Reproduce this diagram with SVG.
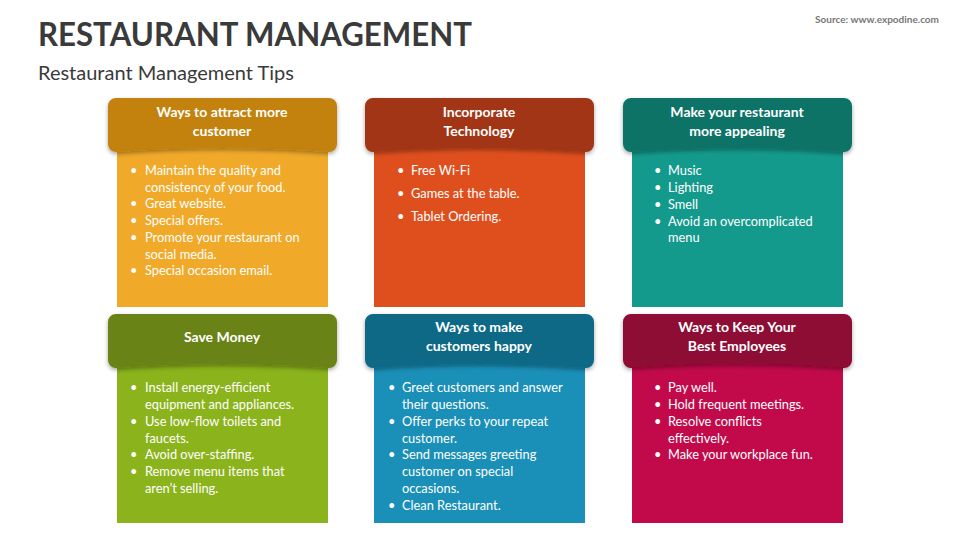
<svg xmlns="http://www.w3.org/2000/svg" width="960" height="540" viewBox="0 0 960 540">
<defs>
<style>
text{font-family:Lato,"Open Sans",sans-serif;}
.h{fill:#fff;font-weight:bold;font-size:14px;text-anchor:middle}
.b{fill:#fff;font-size:12.8px}
</style>
<filter id="sh" x="-10%" y="-10%" width="120%" height="130%"><feDropShadow dx="0" dy="2" stdDeviation="2" flood-opacity="0.35"/></filter>
</defs>
<rect width="960" height="540" fill="#fff"/>
<text x="38" y="46" font-size="32" font-weight="bold" fill="#3a3a3a" textLength="434" lengthAdjust="spacingAndGlyphs">RESTAURANT MANAGEMENT</text>
<text x="38" y="80" font-size="20" fill="#3a3a3a">Restaurant Management Tips</text>
<text x="939" y="23" font-size="10" font-weight="bold" fill="#777" text-anchor="end">Source: www.expodine.com</text>

<g id="card1">
<rect x="117" y="145" width="211" height="162" fill="#F0A929"/>
<path d="M116 98h213a8 8 0 0 1 8 8v38a8 8 0 0 1-8 8q-106-8-213 0a8 8 0 0 1-8-8v-38a8 8 0 0 1 8-8z" fill="#C38210" filter="url(#sh)"/>
<text class="h"><tspan x="222" y="117">Ways to attract more</tspan><tspan x="222" y="136">customer</tspan></text>
<text class="b"><tspan x="130" y="175">•</tspan><tspan x="145" y="175">Maintain the quality and</tspan><tspan x="145" y="192">consistency of your food.</tspan><tspan x="130" y="208">•</tspan><tspan x="145" y="208">Great website.</tspan><tspan x="130" y="225">•</tspan><tspan x="145" y="225">Special offers.</tspan><tspan x="130" y="242">•</tspan><tspan x="145" y="242">Promote your restaurant on</tspan><tspan x="145" y="259">social media.</tspan><tspan x="130" y="275">•</tspan><tspan x="145" y="275">Special occasion email.</tspan></text>
</g>

<g id="card2">
<rect x="374" y="145" width="211" height="162" fill="#DF4F1E"/>
<path d="M373 98h213a8 8 0 0 1 8 8v38a8 8 0 0 1-8 8q-106-8-213 0a8 8 0 0 1-8-8v-38a8 8 0 0 1 8-8z" fill="#A23614" filter="url(#sh)"/>
<text class="h"><tspan x="479" y="117">Incorporate</tspan><tspan x="479" y="136">Technology</tspan></text>
<text class="b"><tspan x="397" y="175">•</tspan><tspan x="411" y="175">Free Wi-Fi</tspan><tspan x="397" y="198">•</tspan><tspan x="411" y="198">Games at the table.</tspan><tspan x="397" y="221">•</tspan><tspan x="411" y="221">Tablet Ordering.</tspan></text>
</g>

<g id="card3">
<rect x="632" y="145" width="211" height="162" fill="#149A8C"/>
<path d="M631 98h213a8 8 0 0 1 8 8v38a8 8 0 0 1-8 8q-106-8-213 0a8 8 0 0 1-8-8v-38a8 8 0 0 1 8-8z" fill="#0F7366" filter="url(#sh)"/>
<text class="h"><tspan x="737" y="117">Make your restaurant</tspan><tspan x="737" y="136">more appealing</tspan></text>
<text class="b"><tspan x="654" y="175">•</tspan><tspan x="668" y="175">Music</tspan><tspan x="654" y="192">•</tspan><tspan x="668" y="192">Lighting</tspan><tspan x="654" y="209">•</tspan><tspan x="668" y="209">Smell</tspan><tspan x="654" y="226">•</tspan><tspan x="668" y="226">Avoid an overcomplicated</tspan><tspan x="668" y="242">menu</tspan></text>
</g>

<g id="card4">
<rect x="117" y="362" width="211" height="161" fill="#8BB31B"/>
<path d="M116 314h213a8 8 0 0 1 8 8v38a8 8 0 0 1-8 8q-106-8-213 0a8 8 0 0 1-8-8v-38a8 8 0 0 1 8-8z" fill="#6A8313" filter="url(#sh)"/>
<text class="h"><tspan x="222" y="342">Save Money</tspan></text>
<text class="b"><tspan x="130" y="392">•</tspan><tspan x="145" y="392">Install energy-efficient</tspan><tspan x="145" y="409">equipment and appliances.</tspan><tspan x="130" y="426">•</tspan><tspan x="145" y="426">Use low-flow toilets and</tspan><tspan x="145" y="443">faucets.</tspan><tspan x="130" y="459">•</tspan><tspan x="145" y="459">Avoid over-staffing.</tspan><tspan x="130" y="476">•</tspan><tspan x="145" y="476">Remove menu items that</tspan><tspan x="145" y="493">aren’t selling.</tspan></text>
</g>

<g id="card5">
<rect x="374" y="362" width="211" height="161" fill="#1A8FB8"/>
<path d="M373 314h213a8 8 0 0 1 8 8v38a8 8 0 0 1-8 8q-106-8-213 0a8 8 0 0 1-8-8v-38a8 8 0 0 1 8-8z" fill="#0F6986" filter="url(#sh)"/>
<text class="h"><tspan x="479" y="332">Ways to make</tspan><tspan x="479" y="351">customers happy</tspan></text>
<text class="b"><tspan x="388" y="392">•</tspan><tspan x="402" y="392">Greet customers and answer</tspan><tspan x="402" y="409">their questions.</tspan><tspan x="388" y="426">•</tspan><tspan x="402" y="426">Offer perks to your repeat</tspan><tspan x="402" y="443">customer.</tspan><tspan x="388" y="459">•</tspan><tspan x="402" y="459">Send messages greeting</tspan><tspan x="402" y="476">customer on special</tspan><tspan x="402" y="493">occasions.</tspan><tspan x="388" y="510">•</tspan><tspan x="402" y="510">Clean Restaurant.</tspan></text>
</g>

<g id="card6">
<rect x="632" y="362" width="211" height="161" fill="#C20A4A"/>
<path d="M631 314h213a8 8 0 0 1 8 8v38a8 8 0 0 1-8 8q-106-8-213 0a8 8 0 0 1-8-8v-38a8 8 0 0 1 8-8z" fill="#8E0735" filter="url(#sh)"/>
<text class="h"><tspan x="737" y="332">Ways to Keep Your</tspan><tspan x="737" y="351">Best Employees</tspan></text>
<text class="b"><tspan x="654" y="392">•</tspan><tspan x="668" y="392">Pay well.</tspan><tspan x="654" y="409">•</tspan><tspan x="668" y="409">Hold frequent meetings.</tspan><tspan x="654" y="426">•</tspan><tspan x="668" y="426">Resolve conflicts</tspan><tspan x="668" y="443">effectively.</tspan><tspan x="654" y="459">•</tspan><tspan x="668" y="459">Make your workplace fun.</tspan></text>
</g>
<g id="connectors"/>
</svg>
